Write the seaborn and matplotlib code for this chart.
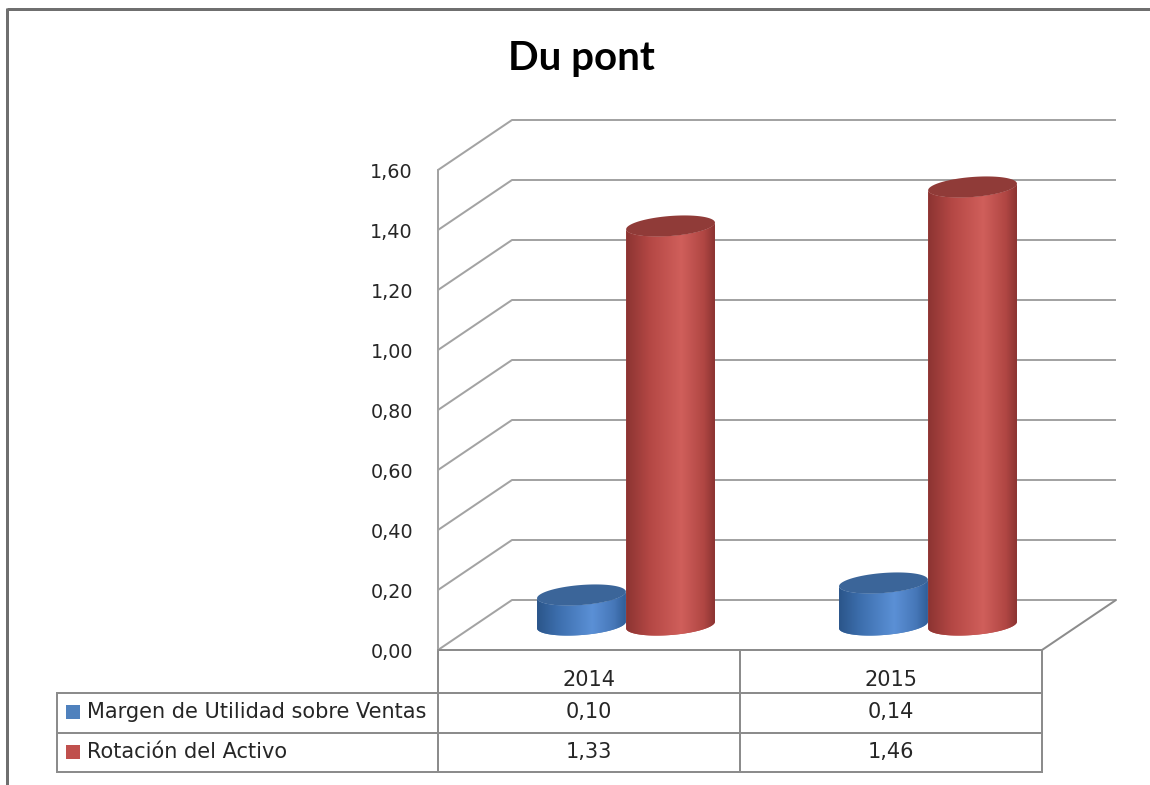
import numpy as np
import pandas as pd
import matplotlib
matplotlib.use("Agg")
import matplotlib.pyplot as plt
import seaborn as sns
from matplotlib.patches import Polygon, Rectangle
from matplotlib.colors import LinearSegmentedColormap

# ---- data ----
title = "Du pont"
years = ["2014", "2015"]
series = ["Margen de Utilidad sobre Ventas", "Rotación del Activo"]
margen = [0.10, 0.14]
rotacion = [1.33, 1.46]
y_ticks = [0.0, 0.2, 0.4, 0.6, 0.8, 1.0, 1.2, 1.4, 1.6]

# ---- styling ----
base_colors = ["#4F81BD", "#C0504D"]
body_cmaps = [
    LinearSegmentedColormap.from_list("blue_body", [
        (0.0, "#2a5488"), (0.25, "#3d6fae"), (0.62, "#5b90d6"),
        (0.86, "#4677b8"), (1.0, "#2e5c95")]),
    LinearSegmentedColormap.from_list("red_body", [
        (0.0, "#8a3331"), (0.28, "#b54845"), (0.62, "#d05f5b"),
        (0.87, "#b04643"), (1.0, "#873230")]),
]
top_colors = ["#3b6599", "#903b38"]
grid_color = "#a3a3a3"
table_color = "#8c8c8c"
text_color = "#262626"

sns.set_theme(style="white")
plt.rcParams["font.family"] = ["DejaVu Sans"]

W, H, DPI = 1150, 785, 100
fig = plt.figure(figsize=(W / DPI, H / DPI), dpi=DPI)
fig.patch.set_facecolor("white")

# overlay in pixel coordinates for frame, title and data table
ov = fig.add_axes([0, 0, 1, 1])
ov.set_xlim(0, W)
ov.set_ylim(H, 0)
ov.axis("off")

# front plane of the plot area (pixels)
L, R, B, T = 438, 1042, 650, 170
ax = fig.add_axes([L / W, 1 - B / H, (R - L) / W, (B - T) / H])
ax.patch.set_alpha(0)

df = pd.DataFrame({
    "Año": years * 2,
    "Serie": [series[0]] * len(years) + [series[1]] * len(years),
    "Valor": margen + rotacion,
})
sns.barplot(data=df, x="Año", y="Valor", hue="Serie", palette=base_colors,
            width=0.59, errorbar=None, legend=False, ax=ax)
ax.set_xlim(-0.5, len(years) - 0.5)
ax.set_ylim(y_ticks[0], y_ticks[-1])
for s in ax.spines.values():
    s.set_visible(False)
ax.set_xlabel("")
ax.set_ylabel("")
ax.set_yticks(y_ticks)
ax.set_yticklabels([f"{t:.2f}".replace(".", ",") for t in y_ticks])
ax.tick_params(axis="y", length=0, pad=18, labelsize=13.8, labelcolor=text_color)
ax.tick_params(axis="x", bottom=False, labelbottom=False)

# pixel <-> data scale for the pseudo 3D depth
ppx = (R - L) / (ax.get_xlim()[1] - ax.get_xlim()[0])
ppy = (B - T) / (ax.get_ylim()[1] - ax.get_ylim()[0])
DX, DY = 74 / ppx, 50 / ppy
x0, x1 = ax.get_xlim()

lw_grid = 2 * 72 / DPI
# back wall gridlines + side wall diagonals
for t in y_ticks:
    ax.plot([x0 + DX, x1 + DX], [t + DY, t + DY], color=grid_color, lw=lw_grid,
            clip_on=False, zorder=1, solid_capstyle="butt")
    ax.plot([x0, x0 + DX], [t, t + DY], color=grid_color, lw=lw_grid,
            clip_on=False, zorder=1)
# front vertical axis and floor edges
ax.plot([x0, x0], [y_ticks[0], y_ticks[-1]], color=grid_color, lw=lw_grid,
        clip_on=False, zorder=1)
ax.plot([x0, x1], [0, 0], color=table_color, lw=lw_grid, clip_on=False, zorder=1)
ax.plot([x1, x1 + DX], [0, DY], color=table_color, lw=lw_grid, clip_on=False, zorder=1)

# cylinders built from the seaborn bars
theta = np.deg2rad(4.5)
b_px = 10.0


def ellipse_pts(a_px, t):
    ex = a_px * np.cos(t) * np.cos(theta) - b_px * np.sin(t) * np.sin(theta)
    ey = a_px * np.cos(t) * np.sin(theta) + b_px * np.sin(t) * np.cos(theta)
    return ex / ppx, ey / ppy


bars = list(ax.patches)
n_years = len(years)
info = []
for i, p in enumerate(bars):
    s_idx = i // n_years
    info.append((p.get_x() + p.get_width() / 2, p.get_width(), p.get_height(), s_idx))
    p.set_visible(False)
info.sort(key=lambda r: r[0])

z = 3
grad = np.linspace(0, 1, 256)[None, :]
for cx_front, w, h, s_idx in info:
    cx = cx_front + DX / 2
    cy = DY / 2
    a_px = w / 2 * ppx
    t_low = np.linspace(np.pi, 2 * np.pi, 80)
    bx, by = ellipse_pts(a_px, t_low)
    bottom = np.column_stack([cx + bx, cy + by])
    top_front = np.column_stack([cx + bx[::-1], cy + h + by[::-1]])
    body = Polygon(np.vstack([bottom, top_front]), closed=True,
                   facecolor=base_colors[s_idx], edgecolor="none",
                   zorder=z, clip_on=False)
    ax.add_patch(body)
    half = a_px / ppx
    img = ax.imshow(grad, cmap=body_cmaps[s_idx], aspect="auto",
                    extent=[cx - half * 1.02, cx + half * 1.02,
                            cy - 14 / ppy, cy + h + 14 / ppy],
                    interpolation="bicubic", zorder=z + 0.1)
    img.set_clip_path(body)
    tx, ty = ellipse_pts(a_px, np.linspace(0, 2 * np.pi, 160))
    top = Polygon(np.column_stack([cx + tx, cy + h + ty]), closed=True,
                  facecolor=top_colors[s_idx], edgecolor="none",
                  zorder=z + 0.2, clip_on=False)
    ax.add_patch(top)
    z += 1

ax.set_xlim(x0, x1)
ax.set_ylim(y_ticks[0], y_ticks[-1])

# ---- outer frame ----
ov.plot([7, 7], [8, H], color="#6f6f6f", lw=3 * 72 / DPI, solid_capstyle="butt")
ov.plot([7, W], [8.5, 8.5], color="#6f6f6f", lw=3 * 72 / DPI, solid_capstyle="butt")

# ---- title ----
ov.text(581, 70, title, ha="center", va="baseline", fontsize=29,
        fontweight="bold", family=["Lato", "DejaVu Sans"], color="black")

# ---- data table ----
col_centers = [L + (i + 0.5) * ppx for i in range(n_years)]
col_edges = [L + i * ppx for i in range(n_years + 1)]
tab_left = 57
row_lines = [693, 733, 772]
lw_t = 2 * 72 / DPI
for xe in col_edges:
    ov.plot([xe, xe], [B, row_lines[-1]], color=table_color, lw=lw_t,
            solid_capstyle="projecting")
ov.plot([tab_left, tab_left], [row_lines[0], row_lines[-1]], color=table_color,
        lw=lw_t, solid_capstyle="projecting")
for yl in row_lines:
    ov.plot([tab_left, R], [yl, yl], color=table_color, lw=lw_t,
            solid_capstyle="projecting")

fs_tab = 15
for xc, yr in zip(col_centers, years):
    ov.text(xc, 680, yr, ha="center", va="center", fontsize=fs_tab, color=text_color)

row_values = [margen, rotacion]
row_y = [712, 752]
for s_idx, (name, vals, yc) in enumerate(zip(series, row_values, row_y)):
    ov.add_patch(Rectangle((66, yc - 7), 14, 14, facecolor=base_colors[s_idx],
                           edgecolor="none"))
    ov.text(87, yc, name, ha="left", va="center", fontsize=fs_tab, color=text_color)
    for xc, v in zip(col_centers, vals):
        ov.text(xc, yc, f"{v:.2f}".replace(".", ","), ha="center", va="center",
                fontsize=fs_tab, color=text_color)

fig.savefig("out.png", dpi=DPI, facecolor="white")
